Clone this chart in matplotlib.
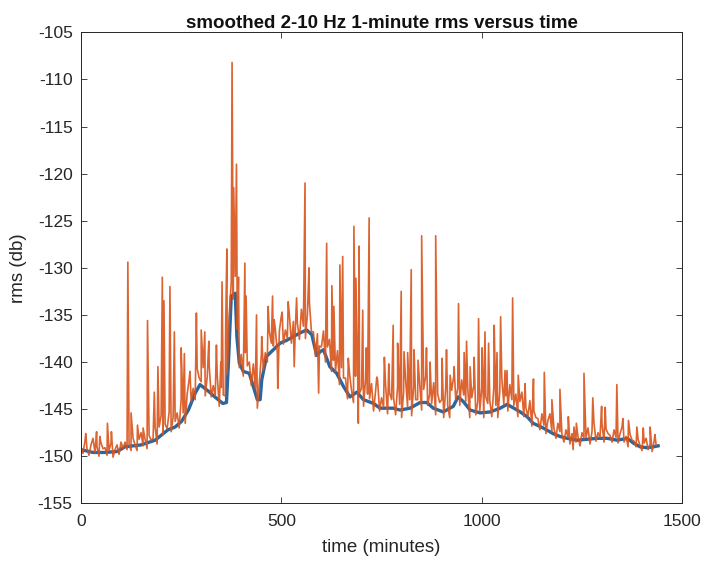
import numpy as np
import matplotlib
matplotlib.use('Agg')
import matplotlib.pyplot as plt

plt.rcParams['font.family'] = ['Liberation Sans', 'DejaVu Sans']
plt.rcParams['axes.unicode_minus'] = False

# smoothed curve (blue)
smooth_t = [0, 10, 30, 60, 90, 110, 150, 185, 217, 235, 251, 268, 285, 297, 318, 334,
            354, 363, 368, 375, 385, 389, 395, 405, 420, 430, 440, 447, 451, 463, 480,
            497, 513, 530, 547, 563, 576, 588, 597, 605, 621, 638, 655, 671, 688, 705,
            730, 746, 779, 796, 821, 846, 863, 879, 904, 929, 941, 954, 971, 996, 1021,
            1046, 1063, 1080, 1096, 1113, 1128, 1153, 1178, 1195, 1213, 1238, 1263, 1288,
            1313, 1338, 1363, 1378, 1395, 1413, 1428, 1440]
smooth_v = [-149.3, -149.4, -149.6, -149.6, -149.5, -149.0, -148.8, -148.3, -147.2, -146.9,
            -146.3, -145.1, -143.3, -142.4, -143.1, -143.7, -144.4, -144.3, -140.0, -133.0,
            -132.7, -137.3, -140.1, -141.0, -141.2, -142.6, -144.0, -144.0, -141.9, -139.4,
            -138.7, -138.0, -137.7, -137.3, -136.9, -136.6, -137.1, -139.3, -138.9, -138.7,
            -140.5, -141.2, -142.6, -143.7, -143.2, -144.0, -144.4, -144.9, -144.9, -145.1,
            -144.9, -144.3, -144.3, -144.9, -145.3, -144.7, -143.7, -144.2, -145.1, -145.4,
            -145.3, -144.9, -144.5, -144.9, -145.3, -145.8, -146.5, -147.0, -147.6, -147.9,
            -148.1, -148.3, -148.2, -148.1, -148.1, -148.3, -148.1, -148.6, -149.0, -149.1,
            -149.0, -148.9]

# raw 1-minute rms (orange), sampled every 5 minutes, one row per hour
raw_v = [
    -149.0, -149.7, -148.4, -149.2, -149.9, -148.8, -148.1, -149.6, -149.0, -150.0, -148.6, -149.2,
    -149.1, -149.9, -149.4, -148.6, -150.1, -149.3, -148.8, -149.8, -148.5, -149.2, -148.5, -149.3,
    -148.7, -149.4, -148.1, -148.8, -149.4, -148.2, -147.5, -148.9, -148.2, -149.2, -147.8, -148.3,
    -148.1, -146.9, -148.7, -146.9, -145.7, -147.7, -146.6, -147.1, -145.3, -147.4, -145.8, -146.3,
    -145.4, -147.0, -143.9, -145.4, -146.5, -143.4, -141.8, -144.2, -142.8, -144.0, -140.7, -141.7,
    -142.1, -140.6, -143.6, -141.6, -140.4, -143.7, -142.5, -143.6, -141.4, -144.7, -142.7, -143.5,
    -143.6, -141.2, -135.0, -131.5, -133.3, -130.9, -136.5, -140.6, -139.2, -141.5, -139.0, -140.4,
    -140.0, -142.5, -140.2, -142.8, -144.9, -142.2, -139.3, -140.9, -139.0, -140.0, -136.8, -138.0,
    -138.3, -136.5, -139.1, -136.7, -135.1, -138.1, -136.6, -137.5, -135.0, -138.0, -135.7, -136.3,
    -135.9, -137.6, -134.4, -136.2, -137.5, -134.9, -133.7, -136.8, -136.8, -139.4, -137.0, -138.3,
    -138.4, -136.7, -140.0, -138.4, -137.6, -141.0, -139.8, -141.0, -138.8, -142.4, -140.6, -141.7,
    -141.7, -143.9, -141.2, -143.0, -144.3, -141.5, -140.2, -143.3, -142.8, -144.7, -141.9, -143.4,
    -143.9, -142.3, -145.2, -143.1, -141.9, -145.2, -143.8, -144.8, -142.4, -145.5, -143.3, -144.0,
    -143.8, -145.6, -142.6, -144.5, -145.9, -143.2, -141.9, -144.8, -144.0, -145.7, -142.6, -144.0,
    -144.0, -142.3, -145.1, -142.9, -141.5, -144.6, -143.4, -144.4, -142.2, -145.6, -143.4, -144.3,
    -144.0, -145.9, -142.8, -144.6, -145.9, -143.0, -141.5, -144.0, -142.8, -144.6, -141.9, -143.5,
    -144.2, -142.8, -145.9, -143.8, -142.5, -145.6, -144.2, -145.2, -142.8, -145.9, -143.7, -144.4,
    -144.1, -145.8, -142.8, -144.6, -145.9, -143.1, -141.7, -144.5, -143.6, -145.2, -142.4, -144.0,
    -144.6, -143.4, -145.8, -144.2, -143.2, -145.8, -144.8, -145.8, -144.1, -146.8, -145.2, -145.9,
    -146.0, -147.2, -145.5, -146.7, -147.6, -146.2, -145.5, -147.4, -147.0, -148.1, -146.5, -147.4,
    -147.7, -148.5, -147.2, -148.0, -148.7, -147.6, -146.9, -148.5, -147.9, -148.9, -147.5, -148.1,
    -148.0, -147.0, -148.7, -147.4, -146.5, -148.4, -147.5, -148.0, -146.6, -148.5, -147.1, -147.6,
    -147.8, -148.5, -147.2, -148.0, -148.6, -147.6, -146.9, -148.5, -147.9, -149.0, -147.7, -148.3,
    -148.4, -149.0, -148.2, -148.9, -149.4, -148.6, -148.1, -149.3, -148.7, -149.5, -148.4, -148.8,
]
raw_t = list(range(0, 1440, 5))

# single-minute spikes and dips in the raw series
spike_t = [12, 39, 47, 66, 76, 117, 125, 141, 155, 166, 183, 192, 203, 207, 222, 233, 250,
           258, 272, 288, 300, 309, 319, 338, 349, 352, 361, 364, 377, 381, 388, 393, 409,
           412, 438, 451, 467, 478, 482, 491, 502, 517, 532, 538, 559, 569, 593, 613, 626,
           631, 646, 653, 667, 681, 686, 692, 694, 703, 712, 719, 738, 757, 768, 779, 790,
           799, 806, 815, 824, 831, 841, 850, 862, 871, 885, 901, 912, 921, 931, 942, 956,
           962, 971, 981, 992, 1001, 1008, 1017, 1031, 1038, 1047, 1058, 1063, 1077, 1091,
           1108, 1129, 1156, 1175, 1195, 1216, 1228, 1236, 1255, 1277, 1299, 1308, 1337,
           1352, 1366, 1387, 1403, 1420, 1432]
spike_v = [-147.6, -147.4, -147.9, -146.5, -147.4, -129.4, -145.4, -146.7, -147.0, -135.6,
           -143.2, -140.5, -131.0, -133.5, -132.0, -136.8, -138.5, -139.1, -141.0, -134.8,
           -136.6, -136.8, -137.8, -138.2, -140.0, -131.5, -136.3, -128.0, -108.2, -121.5,
           -119.0, -131.0, -129.5, -133.0, -135.0, -137.3, -134.1, -133.0, -135.5, -142.8,
           -134.7, -133.6, -140.5, -133.2, -121.0, -130.0, -143.3, -127.4, -131.9, -134.1,
           -129.7, -128.8, -139.6, -125.6, -131.1, -146.5, -127.7, -134.5, -138.5, -124.7,
           -141.6, -139.5, -140.2, -136.1, -138.0, -132.5, -138.9, -139.0, -130.2, -138.7,
           -139.8, -126.6, -138.5, -140.0, -126.6, -139.6, -138.7, -141.4, -140.5, -133.8,
           -139.0, -137.8, -140.5, -139.5, -135.4, -138.5, -136.8, -138.0, -136.1, -139.0,
           -135.2, -140.9, -140.9, -133.2, -141.4, -142.3, -141.8, -141.1, -144.0, -142.9,
           -145.8, -149.3, -146.5, -141.2, -143.8, -144.7, -144.8, -142.4, -146.0, -146.2,
           -146.9, -147.0, -146.9, -147.7]

pts = sorted(zip(raw_t + spike_t, raw_v + spike_v))
orange_t = [p[0] for p in pts]
orange_v = [p[1] for p in pts]

fig = plt.figure(figsize=(7.04, 5.64), dpi=100)
ax = fig.add_axes([0.115, 0.1076, 0.854, 0.8351])

ax.plot(smooth_t, smooth_v, color='#2a66a0', lw=2.4, solid_joinstyle='round')
ax.plot(orange_t, orange_v, color='#D95319', lw=1.2, alpha=0.9)

ax.set_xlim(0, 1500)
ax.set_ylim(-155, -105)
ax.set_xticks([0, 500, 1000, 1500])
ax.set_yticks(np.arange(-155, -104, 5))
ax.tick_params(direction='in', top=True, right=True, length=4, width=0.6,
               colors='#262626', labelsize=12.5)
ax.tick_params(axis='x', pad=8)
ax.tick_params(axis='y', pad=6)
for s in ax.spines.values():
    s.set_color('#262626')
    s.set_linewidth(0.7)

ax.set_title('smoothed 2-10 Hz 1-minute rms versus time', fontsize=13.5,
             fontweight='bold', color='#111111', pad=3)
ax.set_xlabel('time (minutes)', fontsize=13.5, color='#262626')
ax.set_ylabel('rms (db)', fontsize=13.5, color='#262626')
ax.xaxis.set_label_coords(0.5, -0.075)
ax.yaxis.set_label_coords(-0.09, 0.5)

fig.savefig('out.png', dpi=100)
